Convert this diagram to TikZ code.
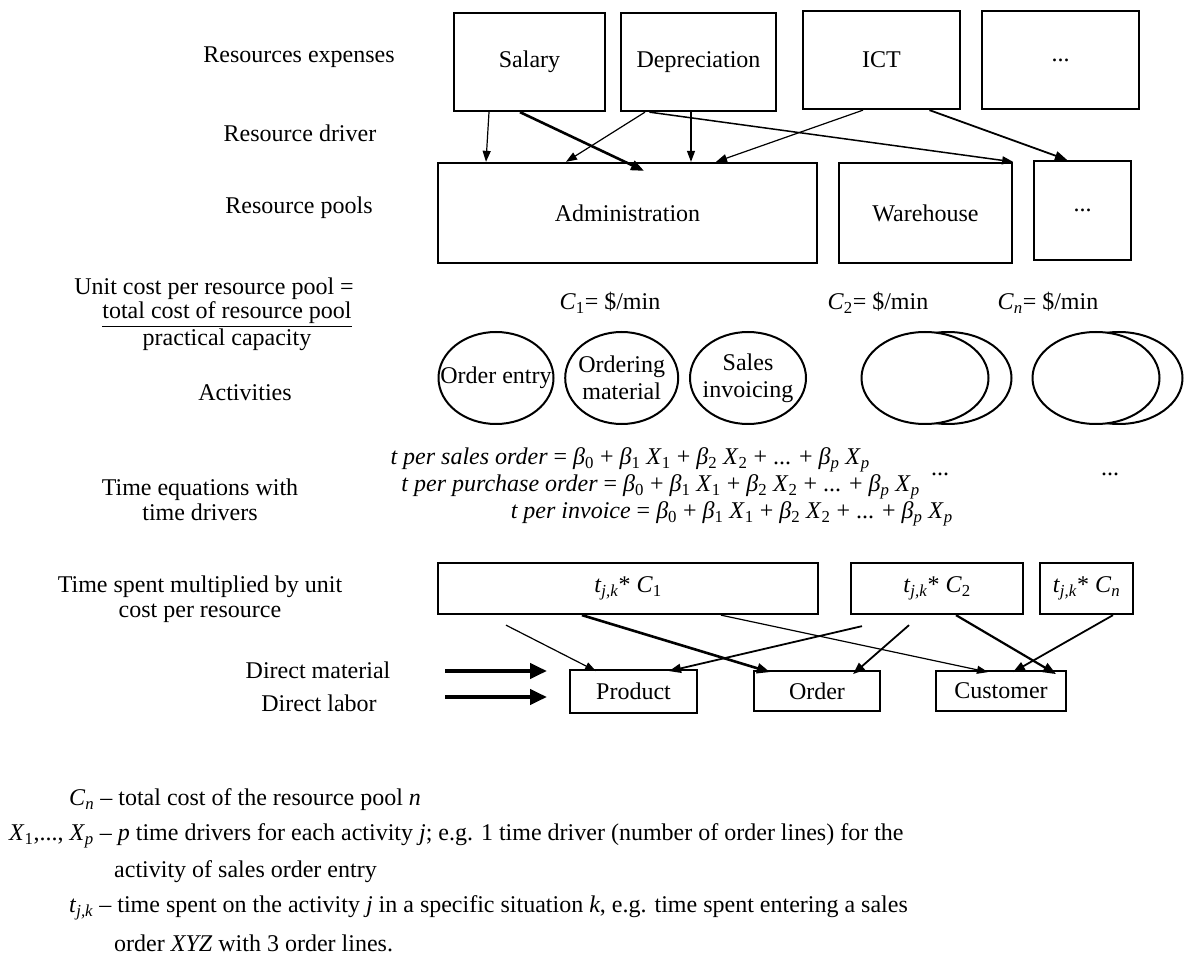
\documentclass[tikz,border=0pt]{standalone}
\usepackage{fontspec}
\setmainfont{Liberation Serif}
\usetikzlibrary{arrows.meta,shapes.geometric}
\newcommand{\Beq}{\textit{β}\textsubscript{0} + \textit{β}\textsubscript{1} \textit{X}\textsubscript{1} + \textit{β}\textsubscript{2} \textit{X}\textsubscript{2} + ... + \textit{β}\textsubscript{\textit{p}} \textit{X}\textsubscript{\textit{p}}}
\begin{document}
\begin{tikzpicture}[x=1pt,y=-1pt,
 every node/.style={font=\fontsize{24}{25}\selectfont, inner sep=0pt},
 box/.style={draw, line width=2.3pt, inner sep=0pt},
 act/.style={draw, ellipse, line width=2pt, inner sep=0pt, minimum height=92pt},
 arrthin/.style={line width=1.2pt, -{Triangle[length=11pt,width=8pt]}},
 arrmed/.style={line width=1.8pt, -{Triangle[length=12pt,width=9pt]}},
 arrthick/.style={line width=2.6pt, -{Triangle[length=13pt,width=10pt]}},
 arrbig/.style={line width=4pt, -{Triangle[length=17pt,width=15pt]}},
 lbl/.style={align=center}]
\fill[white] (0,0) rectangle (1184,957);
\useasboundingbox (0,0) rectangle (1184,957);

% left labels
\node[lbl] (l1) at (299,57) {Resources expenses};
\node[lbl] (l2) at (300,133) {Resource driver};
\node[lbl] (l3) at (299,208) {Resource pools};
\node[lbl] (l4) at (214,289) {Unit cost per resource pool =};
\node[lbl] (num) at (227,313) {total cost of resource pool};
\draw[line width=1.3pt] ([yshift=-2pt]num.south west) -- ([yshift=-2pt]num.south east);
\node[lbl] (den) at (227,340) {practical capacity};
\node[lbl] (l5) at (245,393) {Activities};
\node[lbl] (l6) at (200,499.5) {Time equations with\\time drivers};
\node[lbl] (l7) at (200,599.5) {Time spent multiplied by unit\\cost per resource};
\node[lbl] (l8) at (318,670) {Direct material};
\node[lbl] (l9) at (319,703) {Direct labor};

% resource expenses
\node[box, minimum width=151pt, minimum height=98pt] (sal) at (529.5,62) {Salary};
\node[box, minimum width=155pt, minimum height=98pt] (dep) at (698.5,62) {Depreciation};
\node[box, minimum width=157pt, minimum height=98pt] (ict) at (881.5,60) {ICT};
\node[box, minimum width=157pt, minimum height=98pt] (rex) at (1060.5,60) {...};

% resource pools
\node[box, minimum width=379pt, minimum height=100pt] (adm) at (627.5,213) {Administration};
\node[box, minimum width=173pt, minimum height=100pt] (wh) at (925.5,213) {Warehouse};
\node[box, minimum width=97pt, minimum height=99pt] (pex) at (1082.5,210.5) {...};

% resource drivers
\draw[arrthin] ([xshift=-40.5pt]sal.south) -- ([xshift=-141.5pt]adm.north);
\draw[arrthick] ([xshift=-9.5pt]sal.south) -- ([xshift=16.5pt,yshift=-9pt]adm.north);
\draw[arrthin] ([xshift=-53.5pt]dep.south) -- ([xshift=-61.5pt]adm.north);
\draw[arrthin] ([xshift=-7.5pt]dep.south) -- ([xshift=63.5pt]adm.north);
\draw[arrthin, line width=1.5pt] ([xshift=-49pt]dep.south) -- (wh.north east);
\draw[arrthin] ([xshift=-18.5pt]ict.south) -- ([xshift=88.5pt]adm.north);
\draw[arrmed] ([xshift=48pt]ict.south) -- ([xshift=-15.5pt]pex.north);

% unit costs
\node (c1) at (610,303) {\textit{C}\textsubscript{1}= \$/min};
\node (c2) at (878,303) {\textit{C}\textsubscript{2}= \$/min};
\node (cn) at (1048,303) {\textit{C}\textsubscript{\textit{n}}= \$/min};

% activities
\node[act, minimum width=115pt] (oe) at (496,378) {};
\node (oet) at (oe) {Order entry};
\node[act, minimum width=113pt] (om) at (621.7,378) {};
\node[lbl, font=\fontsize{24}{27}\selectfont] (omt) at (om) {Ordering\\material};
\node[act, minimum width=116pt] (si) at (748,378) {};
\node[lbl, font=\fontsize{24}{27}\selectfont] (sit) at (si) {Sales\\invoicing};
\node[act, minimum width=127pt] (a2b) at (948,378) {};
\node[act, minimum width=127pt, fill=white] (a2f) at (925,378) {};
\node[act, minimum width=127pt] (anb) at (1119,378) {};
\node[act, minimum width=127pt, fill=white] (anf) at (1096,378) {};

% time equations
\node[anchor=east] (e1) at (870,460) {\textit{t per sales order} = \Beq};
\node[anchor=east] (e2) at (920,487) {\textit{t per purchase order} = \Beq};
\node[anchor=east] (e3) at (953,514) {\textit{t per invoice} = \Beq};
\node (d1) at (940,474) {...};
\node (d2) at (1110,474) {...};

% time x cost
\node[box, minimum width=380pt, minimum height=51pt] (tc1) at (628,588.5) {\textit{t}\textsubscript{\textit{j,k}}* \textit{C}\textsubscript{1}};
\node[box, minimum width=172pt, minimum height=51pt] (tc2) at (937,588.5) {\textit{t}\textsubscript{\textit{j,k}}* \textit{C}\textsubscript{2}};
\node[box, minimum width=93pt, minimum height=51pt] (tcn) at (1086.5,588.5) {\textit{t}\textsubscript{\textit{j,k}}* \textit{C}\textsubscript{\textit{n}}};

% cost objects
\node[box, line width=1.8pt, minimum width=127pt, minimum height=43pt] (prod) at (633.5,691.5) {Product};
\node[box, line width=1.8pt, minimum width=126pt, minimum height=40pt] (ord) at (817,691) {Order};
\node[box, line width=1.8pt, minimum width=130pt, minimum height=40pt] (cus) at (1001,691) {Customer};

\draw[arrthin] ([xshift=-122pt,yshift=-10pt]tc1.south) -- ([xshift=-37.5pt,yshift=-2pt]prod.north);
\draw[arrthick] ([xshift=-46pt]tc1.south) -- ([xshift=-47pt,yshift=-2pt]ord.north);
\draw[arrthin] ([xshift=93pt]tc1.south) -- ([xshift=-13pt,yshift=-2pt]cus.north);
\draw[arrmed] ([xshift=-75pt,yshift=-11pt]tc2.south) -- ([xshift=35.5pt,yshift=-2pt]prod.north);
\draw[arrmed] ([xshift=-28pt,yshift=-10pt]tc2.south) -- ([xshift=36pt,yshift=-4pt]ord.north);
\draw[arrthick, line width=2.2pt] ([xshift=19pt]tc2.south) -- ([xshift=55pt,yshift=-4pt]cus.north);
\draw[arrmed] ([xshift=26.5pt]tcn.south) -- ([xshift=12pt,yshift=-2pt]cus.north);

\coordinate (dmS) at (445,671);
\coordinate (dmE) at (547,671);
\coordinate (dlS) at (445,697);
\coordinate (dlE) at (547,697);
\draw[arrbig] (dmS) -- (dmE);
\draw[arrbig] (dlS) -- (dlE);

% legend
\node[anchor=west] (g1) at (69,800) {\textit{C}\textsubscript{\textit{n}} – total cost of the resource pool \textit{n}};
\node[anchor=west] (g2) at (9,836) {\textit{X}\textsubscript{1},..., \textit{X}\textsubscript{\textit{p}} – \textit{p} time drivers for each activity \textit{j}; e.g. 1 time driver (number of order lines) for the};
\node[anchor=west] (g3) at (114,872) {activity of sales order entry};
\node[anchor=west] (g4) at (69,908) {\textit{t}\textsubscript{\textit{j,k}} – time spent on the activity \textit{j} in a specific situation \textit{k}, e.g. time spent entering a sales};
\node[anchor=west] (g5) at (114,943) {order \textit{XYZ} with 3 order lines.};
\end{tikzpicture}
\end{document}
